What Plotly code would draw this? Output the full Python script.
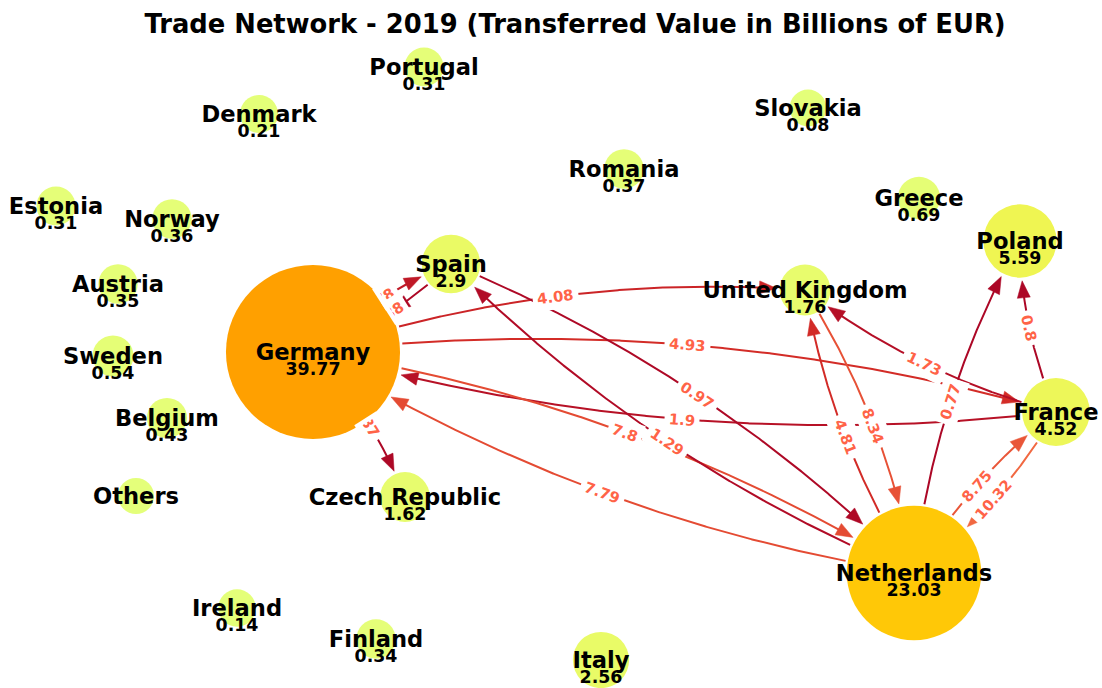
import math
import numpy as np
import plotly.graph_objects as go

# ---------------- data ----------------
countries = ["Germany", "Netherlands", "Poland", "France", "Spain", "Italy",
             "United Kingdom", "Czech Republic", "Greece", "Sweden", "Belgium",
             "Romania", "Norway", "Austria", "Finland", "Portugal", "Estonia",
             "Denmark", "Ireland", "Slovakia", "Others"]
node_values = [39.77, 23.03, 5.59, 4.52, 2.9, 2.56, 1.76, 1.62, 0.69, 0.54, 0.43,
               0.37, 0.36, 0.35, 0.34, 0.31, 0.31, 0.21, 0.14, 0.08, None]

# network layout (drawing coordinates of each node)
layout_x = [313, 914, 1020, 1056, 451, 601, 805, 405, 919, 113, 167,
            624, 172, 118, 376, 424, 56, 259, 237, 808, 136]
layout_y = [352, 573, 241, 412, 264, 660, 290, 497, 198, 356, 418,
            169, 219, 284, 639, 67, 206, 114, 608, 108, 496]

edge_source = ["Germany", "Spain", "Germany", "Germany", "France", "Germany",
               "Netherlands", "Germany", "Spain", "Netherlands", "Netherlands",
               "United Kingdom", "France", "Netherlands", "France", "Netherlands",
               "France"]
edge_target = ["Spain", "Germany", "United Kingdom", "France", "Germany", "Netherlands",
               "Germany", "Czech Republic", "Netherlands", "Spain", "United Kingdom",
               "Netherlands", "United Kingdom", "Poland", "Poland", "France",
               "Netherlands"]
edge_values = [2.78, 0.88, 4.08, 4.93, 1.9, 7.8, 7.79, 0.87, 0.97, 1.29, 4.81,
               8.34, 1.73, 0.77, 0.8, 8.75, 10.32]

title_text = "Trade Network - 2019 (Transferred Value in Billions of EUR)"

# ---------------- style ----------------
W, H = 1102, 688
FONT = "DejaVu Sans"
NODE_BASE_AREA = 1296.0
NODE_AREA_PER_UNIT = 729.0
ARC_RAD = 0.1
ARROW_LEN = 17.0
ARROW_HALF_W = 6.5
EDGE_WIDTH = 2.0
EDGE_LABEL_SIZE = 14.8
EDGE_LABEL_COLOR = "#ff6347"
LABEL_PAD = 4
NAME_SIZE = 22.6
VALUE_SIZE = 17.4
NAME_OFFSET = 2
VALUE_OFFSET = 19
EDGE_CMAP_MAX = 54.0

wistia = [[0.0, "#e4ff7a"], [0.25, "#ffe81a"], [0.5, "#ffbd00"],
          [0.75, "#ffa000"], [1.0, "#fc7f00"]]
rdylgn = [(0.0, (165, 0, 38)), (0.1, (215, 48, 39)), (0.2, (244, 109, 67)),
          (0.3, (253, 174, 97)), (0.4, (254, 224, 139)), (0.5, (255, 255, 191))]


def edge_color(v):
    t = min(max(v / EDGE_CMAP_MAX, 0.0), 0.5)
    for (t0, c0), (t1, c1) in zip(rdylgn[:-1], rdylgn[1:]):
        if t0 <= t <= t1:
            f = (t - t0) / (t1 - t0)
            c = [round(a + (b - a) * f) for a, b in zip(c0, c1)]
            return "rgb(%d,%d,%d)" % tuple(c)
    return "rgb(255,255,191)"


idx = {c: i for i, c in enumerate(countries)}
vals0 = [v if v is not None else 0.0 for v in node_values]
diam = [math.sqrt(NODE_BASE_AREA + NODE_AREA_PER_UNIT * v) for v in vals0]
radius = [d / 2 for d in diam]

# DejaVu Sans Bold advance widths (em)
CW = {"0": .696, "1": .696, "2": .696, "3": .696, "4": .696, "5": .696,
      "6": .696, "7": .696, "8": .696, "9": .696, ".": .381}


def text_width(s, size):
    return sum(CW.get(ch, .7) for ch in s) * size


fig = go.Figure()
annotations = []

for s, t, v in zip(edge_source, edge_target, edge_values):
    a = np.array([layout_x[idx[s]], layout_y[idx[s]]], float)
    b = np.array([layout_x[idx[t]], layout_y[idx[t]]], float)
    d = b - a
    mid = (a + b) / 2
    ctrl = mid + ARC_RAD * np.array([d[1], -d[0]])
    ts = np.linspace(0, 1, 600)
    pts = ((1 - ts) ** 2)[:, None] * a + (2 * (1 - ts) * ts)[:, None] * ctrl + (ts ** 2)[:, None] * b
    rA = radius[idx[s]] + 2
    rB = radius[idx[t]] + 3
    dA = np.linalg.norm(pts - a, axis=1)
    dB = np.linalg.norm(pts - b, axis=1)
    keep = (dA >= rA) & (dB >= rB)
    kidx = np.where(keep)[0]
    tip_i = kidx[-1]
    tip = pts[tip_i]
    tt = ts[tip_i]
    tang = 2 * (1 - tt) * (ctrl - a) + 2 * tt * (b - ctrl)
    u = tang / np.linalg.norm(tang)
    n = np.array([-u[1], u[0]])
    base = tip - ARROW_LEN * u
    line_keep = keep & (np.linalg.norm(pts - tip, axis=1) >= ARROW_LEN * 0.7) & (ts < tt)
    col = edge_color(v)
    lp = pts[line_keep]
    fig.add_trace(go.Scatter(x=lp[:, 0], y=lp[:, 1], mode="lines",
                             line=dict(color=col, width=EDGE_WIDTH),
                             hoverinfo="skip", showlegend=False))
    tri = np.array([tip, base + ARROW_HALF_W * n, base - ARROW_HALF_W * n, tip])
    fig.add_trace(go.Scatter(x=tri[:, 0], y=tri[:, 1], mode="lines", fill="toself",
                             fillcolor=col, line=dict(color=col, width=0.5),
                             hoverinfo="skip", showlegend=False))

    # edge label at curve midpoint (hidden where a node circle covers it)
    P = 0.25 * a + 0.5 * ctrl + 0.25 * b
    ang = math.degrees(math.atan2(d[1], d[0]))
    if ang > 90:
        ang -= 180
    if ang <= -90:
        ang += 180
    ur = np.array([math.cos(math.radians(ang)), math.sin(math.radians(ang))])
    label = str(v)
    Wt = text_width(label, EDGE_LABEL_SIZE)
    lo, hi = -Wt / 2, Wt / 2
    hidden = False
    clip_left = clip_right = False
    for j in range(len(countries)):
        C = np.array([layout_x[j], layout_y[j]], float)
        R = radius[j]
        dd = P - C
        bb = dd @ ur
        cc = dd @ dd - R * R
        disc = bb * bb - cc
        if disc <= 0:
            continue
        t1 = -bb - math.sqrt(disc)
        t2 = -bb + math.sqrt(disc)
        if t2 <= lo or t1 >= hi:
            continue
        if t1 <= lo and t2 >= hi:
            hidden = True
            break
        if t1 <= lo:
            lo = t2 + 1.5
            clip_left = True
        elif t2 >= hi:
            hi = t1 - 1.5
            clip_right = True
    if hidden or hi <= lo:
        continue
    ann = dict(text="<b>%s</b>" % label, showarrow=False, xref="x", yref="y",
               textangle=ang, bgcolor="white", borderpad=LABEL_PAD,
               font=dict(family=FONT, size=EDGE_LABEL_SIZE, color=EDGE_LABEL_COLOR),
               xanchor="center", yanchor="middle")
    if clip_left or clip_right:
        cpos = P + ur * (lo + hi) / 2
        ann.update(x=float(cpos[0]), y=float(cpos[1]), width=float(hi - lo),
                   align="right" if clip_left else "left")
    else:
        ann.update(x=float(P[0]), y=float(P[1]))
    annotations.append(ann)

# nodes
fig.add_trace(go.Scatter(
    x=layout_x, y=layout_y, mode="markers",
    marker=dict(size=diam, color=vals0, colorscale=wistia, cmin=0,
                cmax=max(vals0) / 0.75, line=dict(width=0), opacity=1),
    hoverinfo="skip", showlegend=False))

# node labels
fig.add_trace(go.Scatter(
    x=layout_x, y=[y + NAME_OFFSET for y in layout_y], mode="text", text=countries,
    textposition="middle center",
    textfont=dict(family=FONT, size=NAME_SIZE, color="black", weight="bold"),
    hoverinfo="skip", showlegend=False))
vx = [x for x, v in zip(layout_x, node_values) if v is not None]
vy = [y + VALUE_OFFSET for y, v in zip(layout_y, node_values) if v is not None]
vt = [str(v) for v in node_values if v is not None]
fig.add_trace(go.Scatter(
    x=vx, y=vy, mode="text", text=vt, textposition="middle center",
    textfont=dict(family=FONT, size=VALUE_SIZE, color="black", weight="bold"),
    hoverinfo="skip", showlegend=False))

fig.update_layout(
    width=W, height=H, margin=dict(l=0, r=0, t=0, b=0),
    paper_bgcolor="white", plot_bgcolor="white",
    xaxis=dict(range=[0, W], visible=False, fixedrange=True),
    yaxis=dict(range=[H, 0], visible=False, fixedrange=True),
    title=dict(text=title_text, x=575 / W, xanchor="center",
               y=1 - 24 / H, yanchor="middle", yref="container",
               font=dict(family=FONT, size=25.8, color="black", weight="bold")),
    annotations=annotations,
    showlegend=False,
)

fig.write_html("out.html", config={"displayModeBar": False},
               post_script="document.body.style.margin='0';document.body.style.overflow='hidden';")
